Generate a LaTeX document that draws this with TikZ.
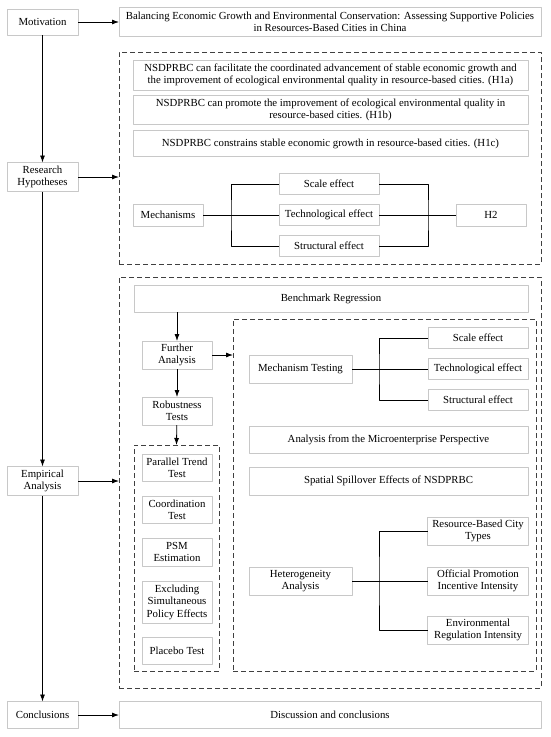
\documentclass[tikz,border=0pt]{standalone}
\usepackage{fontspec}
\setmainfont{Liberation Serif}
\usetikzlibrary{arrows.meta}
\definecolor{boxgray}{RGB}{200,200,200}
\definecolor{dashgray}{RGB}{64,64,64}
\begin{document}
\begin{tikzpicture}[x=1pt, y=-1pt, font=\fontsize{10.8}{12.5}\selectfont, line join=round, >={Latex[length=7pt,width=5pt]},
    box/.style={draw=boxgray, line width=0.8pt, fill=white, inner sep=0pt, outer sep=0pt, align=center},
    group/.style={draw=dashgray, line width=1pt, dash pattern=on 5pt off 3pt, inner sep=0pt, outer sep=0pt},
    link/.style={line width=0.8pt}]
  \useasboundingbox (0,0) rectangle (550,737);
  \def\lx{42.5} \def\rx{330} % centres of the two columns
  % dashed groups
  \node[group, minimum width=422pt, minimum height=212pt] (grp1) at (\rx,158) {};
  \node[group, minimum width=422pt, minimum height=411pt] (grp2) at (\rx,482.5) {};
  \node[group, minimum width=303pt, minimum height=352pt] (grp3) at (384.5,495) {};
  \node[group, minimum width=85pt, minimum height=226pt] (grp4) at (176.5,558) {};
  % left column
  \node[box, minimum width=71pt, minimum height=26pt] (mot) at (\lx,22) {Motivation};
  \node[box, minimum width=71pt, minimum height=29pt] (hyp) at (\lx,177) {Research\\Hypotheses};
  \node[box, minimum width=71pt, minimum height=29pt] (emp) at (\lx,481) {Empirical\\Analysis};
  \node[box, minimum width=71pt, minimum height=27pt] (con) at (\lx,715) {Conclusions};
  % right column
  \node[box, minimum width=422pt, minimum height=29pt] (title) at (\rx,22) {Balancing Economic Growth and Environmental Conservation: Assessing Supportive Policies\\in Resources-Based Cities in China};
  \node[box, minimum width=395pt, minimum height=30pt] (hia) at (330.5,75) {NSDPRBC can facilitate the coordinated advancement of stable economic growth and\\the improvement of ecological environmental quality in resource-based cities. (H1a)};
  \node[box, minimum width=395pt, minimum height=29pt] (hib) at (330.5,110) {NSDPRBC can promote the improvement of ecological environmental quality in\\resource-based cities. (H1b)};
  \node[box, minimum width=395pt, minimum height=26pt] (hic) at (330.5,143.5) {NSDPRBC constrains stable economic growth in resource-based cities. (H1c)};
  \node[box, minimum width=70pt, minimum height=22pt] (mech) at (168,215) {Mechanisms};
  \node[box, minimum width=100pt, minimum height=21pt] (scale) at (329,184) {Scale effect};
  \node[box, minimum width=100pt, minimum height=21pt] (tech) at (329,215) {Technological effect};
  \node[box, minimum width=100pt, minimum height=21pt] (struct) at (329,246) {Structural effect};
  \node[box, minimum width=70pt, minimum height=22pt] (htwo) at (491,215) {H2};
  \coordinate (bl) at (231,215); \coordinate (br) at (428,215);
  % empirical part
  \node[box, minimum width=394pt, minimum height=27pt] (bench) at (331,298.5) {Benchmark Regression};
  \node[box, minimum width=70pt, minimum height=28pt] (further) at (177,355) {Further\\Analysis};
  \node[box, minimum width=70pt, minimum height=28pt] (robust) at (177,411) {Robustness\\Tests};
  \node[box, minimum width=70pt, minimum height=27pt] (ptt) at (177,468) {Parallel Trend\\Test};
  \node[box, minimum width=70pt, minimum height=27pt] (coord) at (177,510) {Coordination\\Test};
  \node[box, minimum width=70pt, minimum height=28pt] (psm) at (177,552) {PSM\\Estimation};
  \node[box, minimum width=70pt, minimum height=42pt] (excl) at (177,602) {Excluding\\Simultaneous\\Policy Effects};
  \node[box, minimum width=70pt, minimum height=27pt] (placebo) at (177,651) {Placebo Test};
  \node[box, minimum width=103pt, minimum height=28pt] (mtest) at (300.5,369) {Mechanism Testing};
  \node[box, minimum width=100pt, minimum height=21pt] (escale) at (478,338) {Scale effect};
  \node[box, minimum width=100pt, minimum height=21pt] (etech) at (478,369) {Technological effect};
  \node[box, minimum width=100pt, minimum height=21pt] (estruct) at (478,400) {Structural effect};
  \node[box, minimum width=279pt, minimum height=27pt] (micro) at (388.5,440) {Analysis from the Microenterprise Perspective};
  \node[box, minimum width=279pt, minimum height=28pt] (spill) at (388.5,481) {Spatial Spillover Effects of NSDPRBC};
  \node[box, minimum width=103pt, minimum height=28pt] (hetero) at (300.5,581) {Heterogeneity\\Analysis};
  \node[box, minimum width=101pt, minimum height=28pt] (rbct) at (478,531) {Resource-Based City\\Types};
  \node[box, minimum width=101pt, minimum height=28pt] (opi) at (478,581) {Official Promotion\\Incentive Intensity};
  \node[box, minimum width=101pt, minimum height=28pt] (eri) at (478,630) {Environmental\\Regulation Intensity};
  \coordinate (ml) at (379,369); \coordinate (hl) at (379,581);
  \node[box, minimum width=422pt, minimum height=27pt] (disc) at (\rx,715) {Discussion and conclusions};
  % arrows
  \draw[link,->] (mot) -- (title);
  \draw[link,->] (mot) -- (hyp);
  \draw[link,->] (hyp) -- (emp);
  \draw[link,->] (emp) -- (con);
  \draw[link,->] (hyp) -- (hyp -| grp1.west);
  \draw[link,->] (emp) -- (emp -| grp2.west);
  \draw[link,->] (con) -- (disc);
  \draw[link,->] (bench.south -| further) -- (further);
  \draw[link,->] (further) -- (robust);
  \draw[link,->] (robust) -- (grp4.north);
  \draw[link,->] (further) -- (further -| grp3.west);
  % brackets
  \draw[link] (mech) -- (tech) (tech) -- (htwo);
  \draw[link] (scale.west) -| (bl) |- (struct.west);
  \draw[link] (scale.east) -| (br) |- (struct.east);
  \draw[link] (mtest) -- (etech);
  \draw[link] (escale.west) -| (ml) |- (estruct.west);
  \draw[link] (hetero) -- (opi);
  \draw[link] (rbct.west) -| (hl) |- (eri.west);
\end{tikzpicture}
\end{document}
